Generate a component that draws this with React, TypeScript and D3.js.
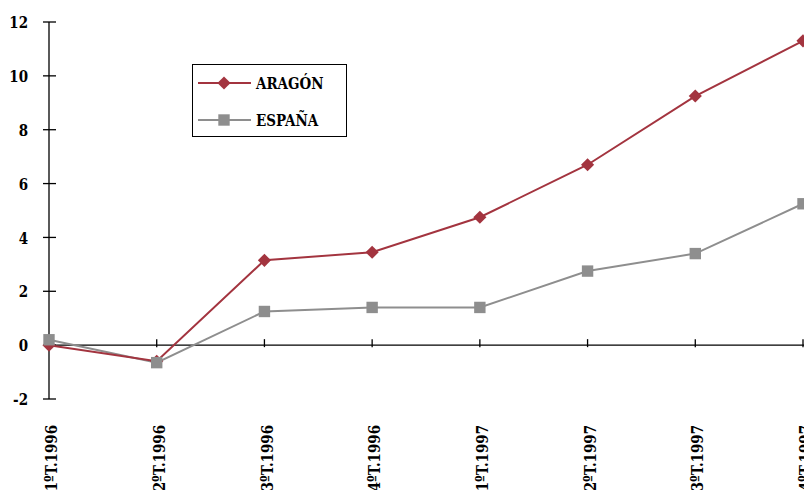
import React, { useEffect, useRef } from "react";
import * as d3 from "d3";

const categories = ["1ºT.1996", "2ºT.1996", "3ºT.1996", "4ºT.1996", "1ºT.1997", "2ºT.1997", "3ºT.1997", "4ºT.1997"];
const aragon = [0, -0.6, 3.15, 3.45, 4.75, 6.7, 9.25, 11.3];
const espana = [0.2, -0.65, 1.25, 1.4, 1.4, 2.75, 3.4, 5.25];
const yTicks = [-2, 0, 2, 4, 6, 8, 10, 12];
const seriesNames = ["ARAGÓN", "ESPAÑA"];

const W = 804, H = 490;
const RED = "#a3343f";
const GREY = "#8e8e8e";
const FONT = "'DejaVu Serif Condensed', 'DejaVu Serif', serif";
const FS = 17;
const SX = 0.88;

export default function App() {
  const ref = useRef<SVGSVGElement>(null);
  useEffect(() => {
    const svg = d3.select(ref.current);
    svg.selectAll("*").remove();
    const x = d3.scalePoint<string>().domain(categories).range([49, 803]);
    const y = d3.scaleLinear().domain([-2, 12]).range([399, 22]);

    svg.append("line").attr("x1", 49).attr("x2", 49).attr("y1", y(12)).attr("y2", y(-2)).attr("stroke", "#000").attr("stroke-width", 1.3);
    yTicks.forEach((t) => {
      svg.append("line").attr("x1", 43).attr("x2", 56).attr("y1", y(t)).attr("y2", y(t)).attr("stroke", "#000").attr("stroke-width", 1.3);
      svg.append("text").attr("transform", `translate(28,${y(t)}) scale(${SX},1)`).attr("dy", "0.36em").attr("text-anchor", "end")
        .attr("font-family", FONT).attr("font-weight", "bold").attr("font-size", FS).text(String(t));
    });
    svg.append("line").attr("x1", 49).attr("x2", W).attr("y1", y(0)).attr("y2", y(0)).attr("stroke", "#000").attr("stroke-width", 1.3);
    categories.forEach((c) => {
      const cx = x(c)!;
      svg.append("line").attr("x1", cx).attr("x2", cx).attr("y1", y(0) - 6).attr("y2", y(0) + 2).attr("stroke", "#000").attr("stroke-width", 1.3);
      svg.append("text").attr("transform", `translate(${cx + 2},425) rotate(-90) scale(${SX},1)`).attr("dy", "0.36em").attr("text-anchor", "end")
        .attr("font-family", FONT).attr("font-weight", "bold").attr("font-size", FS).text(c);
    });

    const line = d3.line<number>().x((_, i) => x(categories[i])!).y((d) => y(d));
    svg.append("path").datum(espana).attr("d", line).attr("fill", "none").attr("stroke", GREY).attr("stroke-width", 2);
    svg.append("path").datum(aragon).attr("d", line).attr("fill", "none").attr("stroke", RED).attr("stroke-width", 2);

    const diamond = d3.symbol().type(d3.symbolDiamond2).size(110);
    const square = d3.symbol().type(d3.symbolSquare).size(130);
    svg.selectAll(".ma").data(aragon).enter().append("path").attr("d", diamond)
      .attr("transform", (d, i) => `translate(${x(categories[i])},${y(d)})`).attr("fill", RED);
    svg.selectAll(".me").data(espana).enter().append("path").attr("d", square)
      .attr("transform", (d, i) => `translate(${x(categories[i])},${y(d)})`).attr("fill", GREY);

    const lg = svg.append("g");
    lg.append("rect").attr("x", 192.5).attr("y", 64.5).attr("width", 154).attr("height", 72).attr("fill", "#fff").attr("stroke", "#000").attr("stroke-width", 1);
    const rows = [{ n: seriesNames[0], c: RED, s: diamond, yy: 83 }, { n: seriesNames[1], c: GREY, s: square, yy: 120 }];
    rows.forEach((r) => {
      lg.append("line").attr("x1", 198).attr("x2", 251).attr("y1", r.yy).attr("y2", r.yy).attr("stroke", r.c).attr("stroke-width", 2);
      lg.append("path").attr("d", r.s).attr("transform", `translate(224,${r.yy})`).attr("fill", r.c);
      lg.append("text").attr("transform", `translate(256,${r.yy}) scale(${SX},1)`).attr("dy", "0.36em").attr("font-family", FONT)
        .attr("font-weight", "bold").attr("font-size", FS).text(r.n);
    });
  }, []);
  return <svg ref={ref} width={W} height={H} style={{ position: "absolute", left: 0, top: 0, background: "#fff" }} />;
}
